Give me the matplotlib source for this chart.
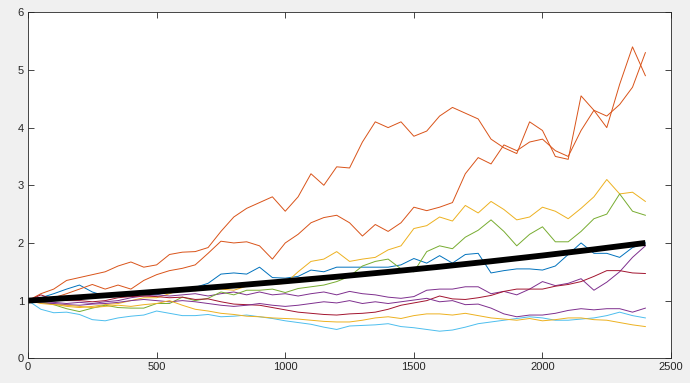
import matplotlib
matplotlib.use("Agg")
import matplotlib.pyplot as plt

plt.rcParams['font.family'] = ['Liberation Sans', 'DejaVu Sans']

t = list(range(0, 2401, 50))

blue = [1.0, 1.05, 1.12, 1.2, 1.27, 1.15, 1.08, 1.08, 1.08, 1.12, 1.1, 1.16, 1.2, 1.23, 1.3, 1.46, 1.48,
        1.46, 1.58, 1.4, 1.39, 1.42, 1.53, 1.5, 1.58, 1.58, 1.58, 1.58, 1.58, 1.62, 1.73, 1.65, 1.78, 1.65,
        1.8, 1.82, 1.48, 1.52, 1.55, 1.55, 1.53, 1.6, 1.8, 2.0, 1.82, 1.82, 1.75, 1.92, 2.0]
orange_a = [1.0, 1.12, 1.2, 1.35, 1.4, 1.45, 1.5, 1.6, 1.67, 1.58, 1.62, 1.8, 1.84, 1.85, 1.92, 2.2, 2.45,
            2.6, 2.7, 2.8, 2.55, 2.8, 3.2, 3.0, 3.32, 3.3, 3.75, 4.1, 4.0, 4.1, 3.85, 3.94, 4.2, 4.35, 4.25,
            4.15, 3.8, 3.65, 3.55, 4.1, 3.95, 3.5, 3.45, 4.55, 4.3, 4.0, 4.75, 5.4, 4.9]
yellow_a = [1.0, 0.97, 0.94, 0.9, 0.88, 0.9, 0.93, 0.95, 1.0, 1.05, 1.05, 1.12, 1.2, 1.17, 1.2, 1.2, 1.18,
            1.25, 1.3, 1.28, 1.3, 1.5, 1.68, 1.72, 1.85, 1.68, 1.72, 1.75, 1.88, 1.95, 2.25, 2.3, 2.45, 2.38,
            2.65, 2.52, 2.72, 2.58, 2.4, 2.45, 2.62, 2.55, 2.42, 2.6, 2.8, 3.1, 2.85, 2.88, 2.72]
purple_a = [1.0, 0.98, 0.97, 0.95, 0.97, 0.95, 0.98, 1.0, 1.05, 1.08, 1.1, 1.08, 1.1, 1.12, 1.08, 1.12,
            1.15, 1.1, 1.15, 1.1, 1.12, 1.08, 1.12, 1.15, 1.1, 1.16, 1.12, 1.1, 1.06, 1.04, 1.07, 1.18, 1.2,
            1.2, 1.24, 1.24, 1.12, 1.16, 1.1, 1.2, 1.33, 1.26, 1.3, 1.38, 1.18, 1.32, 1.5, 1.75, 1.95]
green = [1.0, 0.98, 0.93, 0.86, 0.81, 0.87, 0.92, 0.88, 0.87, 0.87, 0.95, 0.95, 1.06, 1.0, 1.04, 1.15, 1.1,
         1.18, 1.18, 1.2, 1.14, 1.21, 1.24, 1.27, 1.33, 1.42, 1.6, 1.68, 1.72, 1.55, 1.5, 1.85, 1.95, 1.9,
         2.1, 2.22, 2.4, 2.2, 1.95, 2.15, 2.28, 2.02, 2.02, 2.2, 2.42, 2.5, 2.85, 2.55, 2.48]
light_blue = [1.0, 0.85, 0.79, 0.8, 0.76, 0.67, 0.65, 0.7, 0.73, 0.75, 0.82, 0.78, 0.74, 0.74, 0.76, 0.72,
              0.73, 0.75, 0.72, 0.69, 0.65, 0.62, 0.59, 0.54, 0.5, 0.56, 0.57, 0.58, 0.6, 0.55, 0.53, 0.5,
              0.47, 0.49, 0.54, 0.6, 0.63, 0.66, 0.69, 0.72, 0.7, 0.66, 0.66, 0.68, 0.7, 0.74, 0.8, 0.74, 0.7]
dark_red = [1.0, 1.1, 1.02, 1.0, 1.0, 0.98, 1.0, 1.05, 1.07, 1.08, 1.07, 1.05, 1.06, 1.02, 1.03, 0.98, 0.94,
            0.93, 0.92, 0.88, 0.84, 0.8, 0.78, 0.76, 0.75, 0.77, 0.78, 0.8, 0.85, 0.92, 0.96, 1.0, 1.08, 1.03,
            1.02, 1.05, 1.09, 1.16, 1.2, 1.2, 1.2, 1.25, 1.28, 1.33, 1.42, 1.52, 1.52, 1.48, 1.47]
purple_b = [1.0, 0.96, 0.95, 0.93, 0.92, 0.94, 0.95, 0.97, 1.0, 1.02, 1.0, 0.98, 1.0, 0.98, 0.95, 0.92, 0.9,
            0.92, 0.95, 0.92, 0.9, 0.92, 0.95, 0.98, 0.96, 1.0, 0.95, 0.98, 0.95, 0.98, 1.01, 1.04, 0.98, 1.0,
            0.93, 0.94, 0.87, 0.77, 0.72, 0.75, 0.75, 0.78, 0.83, 0.86, 0.84, 0.86, 0.86, 0.8, 0.87]
orange_b = [1.0, 1.02, 1.05, 1.12, 1.2, 1.28, 1.2, 1.27, 1.2, 1.35, 1.45, 1.52, 1.56, 1.62, 1.82, 2.03, 2.0,
            2.02, 1.95, 1.72, 2.0, 2.15, 2.35, 2.44, 2.48, 2.35, 2.12, 2.32, 2.2, 2.35, 2.62, 2.56, 2.62, 2.7,
            3.2, 3.48, 3.37, 3.7, 3.6, 3.75, 3.8, 3.6, 3.5, 3.95, 4.3, 4.2, 4.4, 4.7, 5.3]
yellow_b = [1.0, 0.95, 0.93, 0.92, 0.9, 0.88, 0.9, 0.92, 0.9, 0.93, 0.95, 1.0, 0.92, 0.85, 0.82, 0.78, 0.76,
            0.73, 0.72, 0.7, 0.69, 0.68, 0.66, 0.64, 0.63, 0.63, 0.66, 0.7, 0.72, 0.69, 0.74, 0.77, 0.77,
            0.75, 0.78, 0.74, 0.7, 0.68, 0.66, 0.69, 0.65, 0.67, 0.7, 0.7, 0.67, 0.66, 0.62, 0.58, 0.55]

mean_t = list(range(0, 2401, 200))
mean_v = [1.0, 1.059, 1.122, 1.189, 1.26, 1.335, 1.414, 1.498, 1.587, 1.682, 1.782, 1.888, 2.0]

series = [
    (blue, '#0072BD'), (orange_a, '#D95319'), (yellow_a, '#EDB120'), (purple_a, '#7E2F8E'),
    (green, '#77AC30'), (light_blue, '#4DBEEE'), (dark_red, '#A2142F'), (purple_b, '#7E2F8E'),
    (orange_b, '#D95319'), (yellow_b, '#EDB120'),
]

fig = plt.figure(figsize=(6.9, 3.83), dpi=100, facecolor='#f0f0f0')
ax = fig.add_axes([0.0406, 0.0645, 0.932, 0.9035])
ax.set_facecolor('white')
for vals, c in series:
    ax.plot(t, vals, color=c, linewidth=0.7)
ax.plot(mean_t, mean_v, color='black', linewidth=4.2, solid_capstyle='butt')

ax.set_xlim(0, 2500)
ax.set_ylim(0, 6)
ax.set_xticks(range(0, 2501, 500))
ax.set_yticks(range(0, 7))
ax.tick_params(direction='in', length=4, width=0.6, colors='#262626', labelsize=8,
               top=True, right=True, pad=3)
for s in ax.spines.values():
    s.set_color('#262626')
    s.set_linewidth(0.6)

fig.savefig('out.png', dpi=100, facecolor=fig.get_facecolor())
